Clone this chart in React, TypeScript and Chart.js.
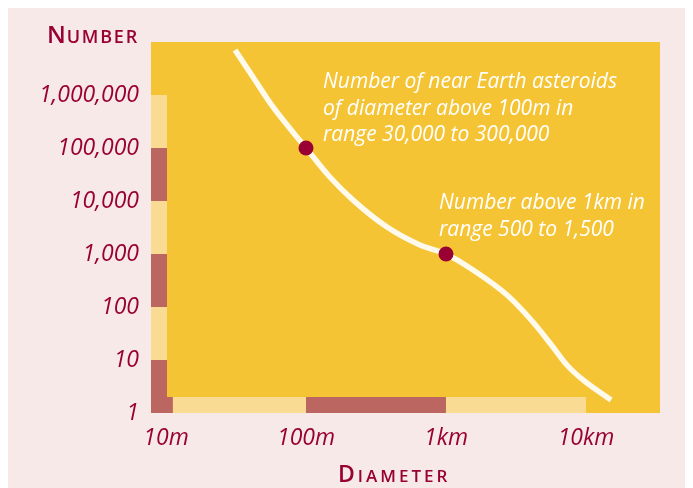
import React, { useEffect, useRef } from "react";
import { Chart, registerables } from "chart.js";

Chart.register(...registerables);

// ---- data ----
const curveDiameters = [31.1, 41.8, 58.1, 100, 148, 217, 379, 652, 1000, 1560, 2730, 4180, 5810, 7310, 9520, 15100];
const curveCounts = [7.06e6, 2.19e6, 5.94e5, 1e5, 28400, 10400, 3230, 1480, 1000, 499, 168, 52, 17.6, 8.05, 4.2, 1.76];
const markerDiameters = [100, 1000];
const markerCounts = [100000, 1000];
const yTickValues = [1, 10, 100, 1000, 10000, 100000, 1000000];
const yTickLabels = ["1", "10", "100", "1,000", "10,000", "100,000", "1,000,000"];
const xTickValues = [10, 100, 1000, 10000];
const xTickLabels = ["10m", "100m", "1km", "10km"];
const xRange = [7.81, 33800];
const yRange = [1, 1e7];
const leftBandEdges = [1, 10, 100, 1000, 10000, 100000, 1000000];
const bottomBandEdges = [7.81, 11.2, 100, 1000, 10000];
const annotationAbove100m = ["Number of near Earth asteroids", "of diameter above 100m in", "range 30,000 to 300,000"];
const annotationAbove1km = ["Number above 1km in", "range 500 to 1,500"];

const PINK = "#f7e9e7";
const YELLOW = "#f5c435";
const LIGHT = "#fadb94";
const DARK = "#bb6660";
const RED = "#990033";
const CREAM = "#fffaeb";
const FAMILY = "'Open Sans', 'Noto Sans', sans-serif";

const decorPlugin = {
  id: "decor",
  beforeDatasetsDraw(chart: any) {
    const { ctx, chartArea: a, scales } = chart;
    const xs = scales.x;
    const ys = scales.y;
    ctx.save();
    ctx.fillStyle = YELLOW;
    ctx.fillRect(a.left, a.top, a.right - a.left, a.bottom - a.top);
    // left band
    for (let i = 0; i < leftBandEdges.length - 1; i++) {
      const y0 = ys.getPixelForValue(leftBandEdges[i]);
      const y1 = ys.getPixelForValue(leftBandEdges[i + 1]);
      ctx.fillStyle = i % 2 === 0 ? DARK : LIGHT;
      ctx.fillRect(a.left, y1, 16, y0 - y1);
    }
    // bottom band
    for (let i = 0; i < bottomBandEdges.length - 1; i++) {
      const x0 = xs.getPixelForValue(bottomBandEdges[i]);
      const x1 = xs.getPixelForValue(bottomBandEdges[i + 1]);
      ctx.fillStyle = i % 2 === 0 ? DARK : LIGHT;
      ctx.fillRect(x0, a.bottom - 16, x1 - x0, 16);
    }
    ctx.restore();
  },
  afterDraw(chart: any) {
    const { ctx, chartArea: a } = chart;
    ctx.save();
    ctx.fillStyle = RED;
    ctx.textBaseline = "alphabetic";
    // NUMBER title (small caps)
    ctx.font = `600 18px ${FAMILY}`;
    (ctx as any).letterSpacing = "1.8px";
    const wRest = ctx.measureText("UMBER").width;
    const rightX = a.left - 12;
    ctx.fillText("UMBER", rightX - wRest, 35);
    ctx.font = `600 24px ${FAMILY}`;
    (ctx as any).letterSpacing = "1.8px";
    const wN = ctx.measureText("N").width;
    ctx.fillText("N", rightX - wRest - wN + 1, 35);
    // DIAMETER title
    const dx = a.left + 187;
    ctx.font = `600 23px ${FAMILY}`;
    (ctx as any).letterSpacing = "3px";
    const wD = ctx.measureText("D").width;
    ctx.fillText("D", dx, 474);
    ctx.font = `600 17px ${FAMILY}`;
    ctx.fillText("IAMETER", dx + wD, 474);
    (ctx as any).letterSpacing = "0px";
    // annotations
    ctx.fillStyle = "#ffffff";
    ctx.font = `italic 21px ${FAMILY}`;
    annotationAbove100m.forEach((t, i) => ctx.fillText(t, a.left + 172, 80 + i * 26.5));
    annotationAbove1km.forEach((t, i) => ctx.fillText(t, a.left + 288, 201 + i * 26.5));
    ctx.restore();
  },
};

export default function App() {
  const ref = useRef<HTMLCanvasElement | null>(null);
  useEffect(() => {
    if (!ref.current) return;
    const tickFont = { family: FAMILY, size: 23, style: "italic" as const, weight: 500 as any };
    const chart = new Chart(ref.current, {
      type: "line",
      data: {
        datasets: [
          {
            type: "scatter",
            data: markerDiameters.map((x, i) => ({ x, y: markerCounts[i] })),
            pointRadius: 7.5,
            pointBackgroundColor: RED,
            pointBorderColor: RED,
            pointBorderWidth: 0,
            showLine: false,
          } as any,
          {
            type: "line",
            data: curveDiameters.map((x, i) => ({ x, y: curveCounts[i] })),
            borderColor: CREAM,
            borderWidth: 5.5,
            pointRadius: 0,
            fill: false,
            cubicInterpolationMode: "monotone",
          },
        ],
      },
      options: {
        responsive: false,
        animation: false,
        events: [],
        layout: { padding: { top: 34, right: 33, left: 0, bottom: 0 } },
        plugins: { legend: { display: false }, tooltip: { enabled: false }, title: { display: false } },
        scales: {
          x: {
            type: "logarithmic",
            min: xRange[0],
            max: xRange[1],
            grid: { display: false, drawTicks: false },
            border: { display: false },
            afterBuildTicks: (s: any) => {
              s.ticks = xTickValues.map((v) => ({ value: v }));
            },
            afterFit: (s: any) => {
              s.height = 75;
            },
            ticks: {
              autoSkip: false,
              maxRotation: 0,
              padding: 12,
              color: RED,
              font: tickFont,
              callback: (v: any) => xTickLabels[xTickValues.indexOf(Number(v))] ?? "",
            },
          },
          y: {
            type: "logarithmic",
            min: yRange[0],
            max: yRange[1],
            grid: { display: false, drawTicks: false },
            border: { display: false },
            afterBuildTicks: (s: any) => {
              s.ticks = yTickValues.map((v) => ({ value: v }));
            },
            afterFit: (s: any) => {
              s.width = 143;
            },
            ticks: {
              autoSkip: false,
              padding: 12,
              color: RED,
              font: tickFont,
              callback: (v: any) => yTickLabels[yTickValues.indexOf(Number(v))] ?? "",
            },
          },
        },
      },
      plugins: [decorPlugin],
    });
    return () => chart.destroy();
  }, []);
  return (
    <div style={{ width: 685, height: 480, background: PINK, overflow: "hidden" }}>
      <canvas ref={ref} width={685} height={480} style={{ width: 685, height: 480, display: "block" }} />
    </div>
  );
}
